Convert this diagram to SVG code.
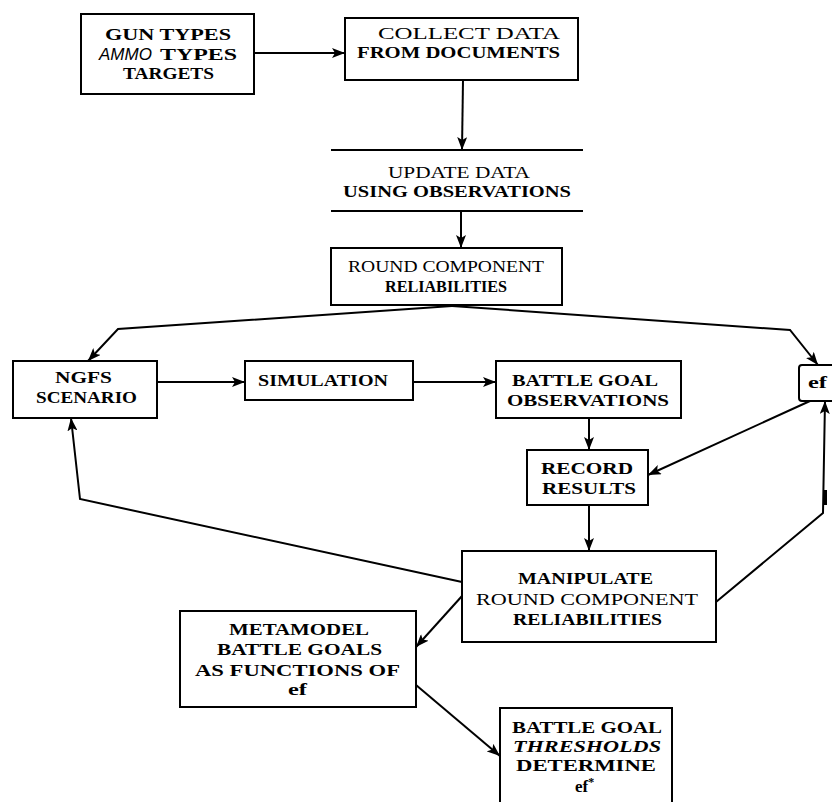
<svg xmlns="http://www.w3.org/2000/svg" width="832" height="802" viewBox="0 0 832 802">
<defs>
<marker id="ah" markerUnits="userSpaceOnUse" markerWidth="14" markerHeight="10" refX="13" refY="5" orient="auto">
<path d="M0,0 L13,5 L0,10 L3,5 z" fill="#000"/>
</marker>
<style>
.box{fill:#fff;stroke:#000;stroke-width:2}
.ln{fill:none;stroke:#000;stroke-width:2;marker-end:url(#ah)}
.t{font-family:"Liberation Serif","DejaVu Serif",serif;font-size:17px;font-weight:bold;fill:#000}
.r{font-weight:normal}
.it{font-style:italic}
.sans{font-family:"Liberation Sans",Arial,sans-serif;font-style:italic;font-weight:normal;font-size:17px}
</style>
</defs>
<rect width="832" height="802" fill="#fff"/>
<g id="connectors">
<line class="ln" x1="254" y1="53" x2="345" y2="53"/>
<line class="ln" x1="463" y1="80" x2="462" y2="150"/>
<line class="ln" x1="461" y1="211" x2="461" y2="248"/>
<polyline class="ln" points="452,306 118,329 88,361"/>
<polyline class="ln" points="452,306 790,330 818,365"/>
<line class="ln" x1="157" y1="382" x2="245" y2="382"/>
<line class="ln" x1="413" y1="382" x2="496" y2="382"/>
<line class="ln" x1="589" y1="418" x2="589" y2="450"/>
<line class="ln" x1="810" y1="401" x2="648" y2="475"/>
<line class="ln" x1="589" y1="505" x2="589" y2="551"/>
<polyline class="ln" points="716,602 823,513 825,401"/>
<line x1="825" y1="490" x2="825" y2="505" stroke="#000" stroke-width="4"/>
<polyline class="ln" points="462,582 80,499 71,418"/>
<line class="ln" x1="462" y1="596" x2="416" y2="647"/>
<line class="ln" x1="416" y1="685" x2="500" y2="756"/>
</g>
<g id="gun">
<rect class="box" x="81" y="14" width="173" height="80"/>
<text class="t" x="105" y="40" textLength="126" lengthAdjust="spacingAndGlyphs">GUN TYPES</text>
<text class="t" x="99" y="60"><tspan class="sans">AMMO</tspan><tspan x="160" textLength="77" lengthAdjust="spacingAndGlyphs">TYPES</tspan></text>
<text class="t" x="123" y="79" textLength="91" lengthAdjust="spacingAndGlyphs">TARGETS</text>
</g>
<g id="collect">
<rect class="box" x="345" y="18" width="233" height="62"/>
<text class="t r" x="378" y="39" textLength="182" lengthAdjust="spacingAndGlyphs">COLLECT DATA</text>
<text class="t" x="357" y="58" textLength="203" lengthAdjust="spacingAndGlyphs">FROM DOCUMENTS</text>
</g>
<g id="update">
<line x1="331" y1="150" x2="583" y2="150" stroke="#000" stroke-width="2"/>
<line x1="331" y1="211" x2="583" y2="211" stroke="#000" stroke-width="2"/>
<text class="t r" x="388" y="178" textLength="142" lengthAdjust="spacingAndGlyphs">UPDATE DATA</text>
<text class="t" x="343" y="197" textLength="228" lengthAdjust="spacingAndGlyphs">USING OBSERVATIONS</text>
</g>
<g id="round">
<rect class="box" x="331" y="248" width="231" height="57"/>
<text class="t r" x="348" y="272" textLength="196" lengthAdjust="spacingAndGlyphs">ROUND COMPONENT</text>
<text class="t" x="385" y="292" textLength="122" lengthAdjust="spacingAndGlyphs">RELIABILITIES</text>
</g>
<g id="ngfs">
<rect class="box" x="13" y="361" width="144" height="57"/>
<text class="t" x="55" y="383" textLength="57" lengthAdjust="spacingAndGlyphs">NGFS</text>
<text class="t" x="36" y="403" textLength="101" lengthAdjust="spacingAndGlyphs">SCENARIO</text>
</g>
<g id="simulation">
<rect class="box" x="245" y="361" width="168" height="39"/>
<text class="t" x="258" y="386" textLength="130" lengthAdjust="spacingAndGlyphs">SIMULATION</text>
</g>
<g id="observations">
<rect class="box" x="496" y="361" width="185" height="57"/>
<text class="t" x="512" y="386" textLength="146" lengthAdjust="spacingAndGlyphs">BATTLE GOAL</text>
<text class="t" x="507" y="406" textLength="162" lengthAdjust="spacingAndGlyphs">OBSERVATIONS</text>
</g>
<g id="ef">
<rect class="box" x="799" y="365" width="45" height="36" rx="3"/>
<text class="t" x="808" y="388" textLength="19" lengthAdjust="spacingAndGlyphs">ef</text>
</g>
<g id="record">
<rect class="box" x="527" y="450" width="121" height="55"/>
<text class="t" x="541" y="474" textLength="92" lengthAdjust="spacingAndGlyphs">RECORD</text>
<text class="t" x="542" y="494" textLength="94" lengthAdjust="spacingAndGlyphs">RESULTS</text>
</g>
<g id="manipulate">
<rect class="box" x="462" y="551" width="254" height="91"/>
<text class="t" x="518" y="584" textLength="135" lengthAdjust="spacingAndGlyphs">MANIPULATE</text>
<text class="t r" x="476" y="605" textLength="222" lengthAdjust="spacingAndGlyphs">ROUND COMPONENT</text>
<text class="t" x="513" y="625" textLength="149" lengthAdjust="spacingAndGlyphs">RELIABILITIES</text>
</g>
<g id="metamodel">
<rect class="box" x="180" y="611" width="236" height="96"/>
<text class="t" x="229" y="635" textLength="140" lengthAdjust="spacingAndGlyphs">METAMODEL</text>
<text class="t" x="217" y="655" textLength="165" lengthAdjust="spacingAndGlyphs">BATTLE GOALS</text>
<text class="t" x="195" y="676" textLength="205" lengthAdjust="spacingAndGlyphs">AS FUNCTIONS OF</text>
<text class="t" x="288" y="695" textLength="19" lengthAdjust="spacingAndGlyphs">ef</text>
</g>
<g id="thresholds">
<rect class="box" x="500" y="708" width="172" height="110"/>
<text class="t" x="512" y="733" textLength="150" lengthAdjust="spacingAndGlyphs">BATTLE GOAL</text>
<text class="t it" x="513" y="752" textLength="148" lengthAdjust="spacingAndGlyphs">THRESHOLDS</text>
<text class="t" x="516" y="771" textLength="140" lengthAdjust="spacingAndGlyphs">DETERMINE</text>
<text class="t" x="575" y="792">ef<tspan font-size="12" dy="-6">*</tspan></text>
</g>
</svg>
